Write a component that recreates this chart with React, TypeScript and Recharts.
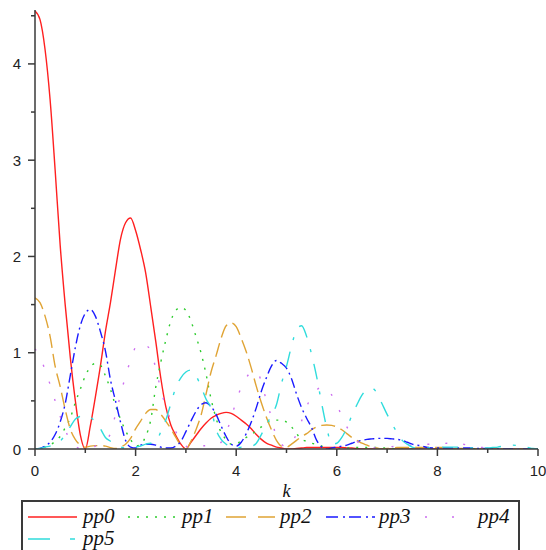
import React from 'react';
import { LineChart, Line, XAxis, YAxis, Legend } from 'recharts';

const K = [
  0, 0.1, 0.2, 0.3, 0.4, 0.5, 0.6, 0.7, 0.8, 0.9,
  1, 1.1, 1.2, 1.3, 1.4, 1.5, 1.6, 1.7, 1.8, 1.9,
  2, 2.1, 2.2, 2.3, 2.4, 2.5, 2.6, 2.7, 2.8, 2.9,
  3, 3.1, 3.2, 3.3, 3.4, 3.5, 3.6, 3.7, 3.8, 3.9,
  4, 4.1, 4.2, 4.3, 4.4, 4.5, 4.6, 4.7, 4.8, 4.9,
  5, 5.1, 5.2, 5.3, 5.4, 5.5, 5.6, 5.7, 5.8, 5.9,
  6, 6.1, 6.2, 6.3, 6.4, 6.5, 6.6, 6.7, 6.8, 6.9,
  7, 7.1, 7.2, 7.3, 7.4, 7.5, 7.6, 7.7, 7.8, 7.9,
  8, 8.1, 8.2, 8.3, 8.4, 8.5, 8.6, 8.7, 8.8, 8.9,
  9, 9.1, 9.2, 9.3, 9.4, 9.5, 9.6, 9.7, 9.8, 9.9,
  10,
];

const PP0 = [
  4.55, 4.46, 4.15, 3.63, 2.9, 2.12, 1.5, 0.96, 0.51, 0.15,
  0, 0.24, 0.54, 0.86, 1.22, 1.52, 1.86, 2.18, 2.35, 2.4,
  2.27, 2.07, 1.83, 1.48, 1.12, 0.74, 0.44, 0.25, 0.14, 0.05,
  0, 0.07, 0.14, 0.21, 0.27, 0.32, 0.35, 0.37, 0.38, 0.37,
  0.34, 0.3, 0.26, 0.21, 0.15, 0.1, 0.06, 0.04, 0.02, 0.01,
  0, 0, 0.005, 0.01, 0.015, 0.015, 0.015, 0.015, 0.015, 0.015,
  0.015, 0.015, 0.012, 0.01, 0.005, 0, 0, 0, 0, 0,
  0, 0, 0, 0, 0, 0, 0, 0, 0, 0,
  0, 0, 0, 0, 0, 0, 0, 0, 0, 0,
  0, 0, 0, 0, 0, 0, 0, 0, 0, 0,
  0,
];

const PP1 = [
  0, 0.005, 0.02, 0.04, 0.08, 0.13, 0.22, 0.32, 0.48, 0.62,
  0.76, 0.85, 0.89, 0.87, 0.76, 0.62, 0.45, 0.31, 0.19, 0.1,
  0.03, 0.05, 0.13, 0.3, 0.64, 0.9, 1.13, 1.33, 1.44, 1.47,
  1.44, 1.33, 1.17, 1.0, 0.78, 0.52, 0.32, 0.17, 0.1, 0.05,
  0.05, 0.09, 0.12, 0.15, 0.19, 0.23, 0.27, 0.29, 0.3, 0.3,
  0.28, 0.23, 0.16, 0.1, 0.08, 0.06, 0.05, 0.03, 0.01, 0,
  0, 0.005, 0.01, 0.015, 0.015, 0.015, 0.015, 0.015, 0.015, 0.01,
  0.01, 0.005, 0, 0, 0, 0, 0, 0, 0, 0,
  0, 0, 0, 0, 0, 0, 0, 0, 0, 0,
  0, 0, 0, 0, 0, 0, 0, 0, 0, 0,
  0,
];

const PP2 = [
  1.57, 1.52, 1.38, 1.17, 0.86, 0.65, 0.41, 0.21, 0.1, 0.04,
  0.02, 0.03, 0.035, 0.035, 0.03, 0.015, 0.005, 0.02, 0.05, 0.11,
  0.21, 0.29, 0.37, 0.41, 0.41, 0.36, 0.29, 0.21, 0.12, 0.04,
  0, 0.08, 0.2, 0.35, 0.57, 0.8, 0.97, 1.15, 1.28, 1.31,
  1.27, 1.15, 1.01, 0.84, 0.65, 0.48, 0.33, 0.2, 0.09, 0.03,
  0.02, 0.05, 0.09, 0.13, 0.16, 0.2, 0.23, 0.245, 0.25, 0.245,
  0.23, 0.2, 0.16, 0.12, 0.09, 0.06, 0.04, 0.02, 0.01, 0,
  0.005, 0.01, 0.015, 0.015, 0.015, 0.015, 0.015, 0.015, 0.015, 0.015,
  0.015, 0.015, 0.01, 0.005, 0.005, 0.005, 0, 0, 0, 0,
  0, 0, 0, 0, 0, 0, 0, 0, 0, 0,
  0,
];

const PP3 = [
  0, 0.005, 0.03, 0.07, 0.15, 0.28, 0.47, 0.76, 1.05, 1.28,
  1.41, 1.45, 1.38, 1.22, 1.02, 0.72, 0.5, 0.28, 0.09, 0.02,
  0.01, 0.04, 0.05, 0.05, 0.04, 0.02, 0.01, 0.01, 0.03, 0.08,
  0.18, 0.29, 0.39, 0.46, 0.48, 0.44, 0.36, 0.24, 0.13, 0.05,
  0.03, 0.07, 0.16, 0.28, 0.43, 0.6, 0.74, 0.86, 0.92, 0.89,
  0.84, 0.73, 0.57, 0.43, 0.32, 0.22, 0.09, 0.02, 0, 0.01,
  0.02, 0.03, 0.04, 0.06, 0.08, 0.09, 0.1, 0.105, 0.11, 0.11,
  0.11, 0.105, 0.1, 0.09, 0.07, 0.05, 0.04, 0.03, 0.015, 0.01,
  0.01, 0.01, 0.01, 0.01, 0.01, 0.01, 0.01, 0.01, 0.005, 0.005,
  0.005, 0, 0, 0, 0, 0, 0, 0, 0, 0,
  0,
];

const PP4 = [
  1.04, 0.96, 0.82, 0.67, 0.5, 0.34, 0.2, 0.09, 0.03, 0.005,
  0.005, 0.01, 0.03, 0.06, 0.09, 0.16, 0.36, 0.56, 0.76, 0.92,
  1.06, 1.1, 1.08, 1.02, 0.84, 0.62, 0.44, 0.3, 0.18, 0.08,
  0.03, 0.01, 0.02, 0.03, 0.035, 0.04, 0.04, 0.07, 0.17, 0.32,
  0.5, 0.64, 0.74, 0.8, 0.81, 0.7, 0.5, 0.33, 0.12, 0.05,
  0.02, 0.06, 0.16, 0.29, 0.44, 0.54, 0.61, 0.65, 0.63, 0.56,
  0.46, 0.34, 0.23, 0.14, 0.08, 0.05, 0.03, 0.015, 0.01, 0.015,
  0.02, 0.025, 0.03, 0.035, 0.04, 0.04, 0.045, 0.045, 0.05, 0.05,
  0.05, 0.055, 0.06, 0.06, 0.06, 0.05, 0.04, 0.03, 0.02, 0.015,
  0.01, 0.005, 0, 0, 0, 0, 0, 0, 0, 0,
  0,
];

const PP5 = [
  0, 0.005, 0.02, 0.03, 0.05, 0.08, 0.15, 0.23, 0.31, 0.34,
  0.35, 0.33, 0.28, 0.21, 0.12, 0.08, 0.04, 0.02, 0.01, 0.01,
  0.02, 0.03, 0.05, 0.06, 0.07, 0.18, 0.3, 0.47, 0.64, 0.74,
  0.8, 0.82, 0.76, 0.65, 0.52, 0.42, 0.2, 0.1, 0.05, 0.02,
  0.01, 0.02, 0.03, 0.03, 0.06, 0.15, 0.25, 0.35, 0.46, 0.68,
  0.86, 1.07, 1.24, 1.28, 1.17, 0.98, 0.75, 0.47, 0.22, 0.05,
  0.06, 0.12, 0.22, 0.35, 0.46, 0.56, 0.62, 0.63, 0.58, 0.47,
  0.36, 0.26, 0.17, 0.09, 0.05, 0.02, 0.01, 0.01, 0.01, 0.015,
  0.015, 0.02, 0.02, 0.02, 0.02, 0.015, 0.01, 0.01, 0.01, 0.01,
  0.01, 0.015, 0.02, 0.03, 0.04, 0.04, 0.035, 0.025, 0.015, 0.005,
  0,
];

const SERIES_NAMES = ['pp0', 'pp1', 'pp2', 'pp3', 'pp4', 'pp5'];
const SERIES_VALUES = [PP0, PP1, PP2, PP3, PP4, PP5];
const X_TICKS = [0, 1, 2, 3, 4, 5, 6, 7, 8, 9, 10];
const Y_TICKS = [0, 0.5, 1, 1.5, 2, 2.5, 3, 3.5, 4, 4.5];
const X_LABEL = 'k';

const STYLES = [
  { color: '#ff2020', dash: undefined, legendDash: undefined },
  { color: '#2ecc2e', dash: '2 7', legendDash: '2 7' },
  { color: '#e0a435', dash: '14 6', legendDash: '20 12' },
  { color: '#1a1aff', dash: '10 4 2 4', legendDash: '12 5 2 4' },
  { color: '#cc6ef0', dash: '2 16', legendDash: '2 25' },
  { color: '#30dcdc', dash: '16 12 3 12', legendDash: '22 20 5 20' },
];

const data = K.map((k, i) => {
  const row: Record<string, number> = { k };
  SERIES_NAMES.forEach((n, j) => {
    row[n] = SERIES_VALUES[j][i];
  });
  return row;
});

const AXIS_COLOR = '#3a3a3a';
const TICK_FONT = '"Liberation Sans", Arial, sans-serif';
const SERIF = '"Liberation Serif", "Times New Roman", serif';

const XTick = (props: any) => {
  const { x, y, payload } = props;
  const v = payload.value;
  const major = v % 2 === 0;
  return (
    <g>
      <line x1={x} x2={x} y1={y} y2={y + (major ? 7 : 4)} stroke={AXIS_COLOR} strokeWidth={1.5} />
      {major && (
        <text x={x} y={y + 27} textAnchor="middle" fontFamily={TICK_FONT} fontSize={15} fill="#222">
          {v}
        </text>
      )}
    </g>
  );
};

const YTick = (props: any) => {
  const { x, y, payload } = props;
  const v = payload.value;
  const major = Number.isInteger(v);
  return (
    <g>
      <line x1={x - (major ? 7 : 4)} x2={x} y1={y} y2={y} stroke={AXIS_COLOR} strokeWidth={1.5} />
      {major && (
        <text x={x - 14} y={y + 5.5} textAnchor="end" fontFamily={TICK_FONT} fontSize={15} fill="#222">
          {v}
        </text>
      )}
    </g>
  );
};

const LEGEND_POS = [
  { lx: 5, tx: 60, row: 0 },
  { lx: 105, tx: 159, row: 0 },
  { lx: 203, tx: 257, row: 0 },
  { lx: 303, tx: 356, row: 0 },
  { lx: 402, tx: 455, row: 0 },
  { lx: 5, tx: 60, row: 1 },
];

const LegendBox = () => (
  <div
    style={{
      width: 499,
      height: 50,
      boxSizing: 'border-box',
      borderTop: `2px solid ${AXIS_COLOR}`,
      borderLeft: `2px solid ${AXIS_COLOR}`,
      borderRight: `2px solid ${AXIS_COLOR}`,
      position: 'relative',
      background: '#fff',
      overflow: 'hidden',
    }}
  >
    <svg width={495} height={48} style={{ position: 'absolute', left: 0, top: 0 }}>
      {SERIES_NAMES.map((n, i) => {
        const p = LEGEND_POS[i];
        const cy = 15 + p.row * 22;
        return (
          <g key={n}>
            <line
              x1={p.lx}
              x2={p.lx + 49}
              y1={cy}
              y2={cy}
              stroke={STYLES[i].color}
              strokeWidth={1.5}
              strokeDasharray={STYLES[i].legendDash}
            />
            <text x={p.tx} y={cy + 6} fontFamily={SERIF} fontStyle="italic" fontSize={21} fill="#111">
              {n}
            </text>
          </g>
        );
      })}
    </svg>
  </div>
);

export default function App() {
  return (
    <div style={{ position: 'absolute', left: 0, top: 0, width: 546, height: 550, background: '#fff' }}>
      <LineChart width={546} height={550} data={data} margin={{ top: 10, right: 8, left: 0, bottom: 0 }}>
        <XAxis
          dataKey="k"
          type="number"
          domain={[0, 10]}
          ticks={X_TICKS}
          interval={0}
          height={51}
          tickSize={0}
          tickMargin={0}
          tickLine={false}
          tick={<XTick />}
          axisLine={{ stroke: AXIS_COLOR, strokeWidth: 1.5 }}
          label={(lp: any) => {
            const vb = lp.viewBox;
            return (
              <text
                x={vb.x + vb.width / 2}
                y={vb.y + 48}
                textAnchor="middle"
                fontFamily={SERIF}
                fontStyle="italic"
                fontSize={18}
                fill="#111"
              >
                {X_LABEL}
              </text>
            );
          }}
        />
        <YAxis
          type="number"
          domain={[0, 4.56]}
          ticks={Y_TICKS}
          interval={0}
          width={35}
          tickSize={0}
          tickMargin={0}
          tickLine={false}
          tick={<YTick />}
          axisLine={{ stroke: AXIS_COLOR, strokeWidth: 1.5 }}
          allowDataOverflow
        />
        <Legend
          verticalAlign="bottom"
          content={() => <LegendBox />}
          wrapperStyle={{ left: 21, bottom: 0, width: 499, height: 50 }}
        />
        {SERIES_NAMES.map((n, i) => (
          <Line
            key={n}
            dataKey={n}
            type="monotone"
            stroke={STYLES[i].color}
            strokeWidth={1.4}
            strokeDasharray={STYLES[i].dash}
            dot={false}
            isAnimationActive={false}
          />
        ))}
      </LineChart>
    </div>
  );
}
